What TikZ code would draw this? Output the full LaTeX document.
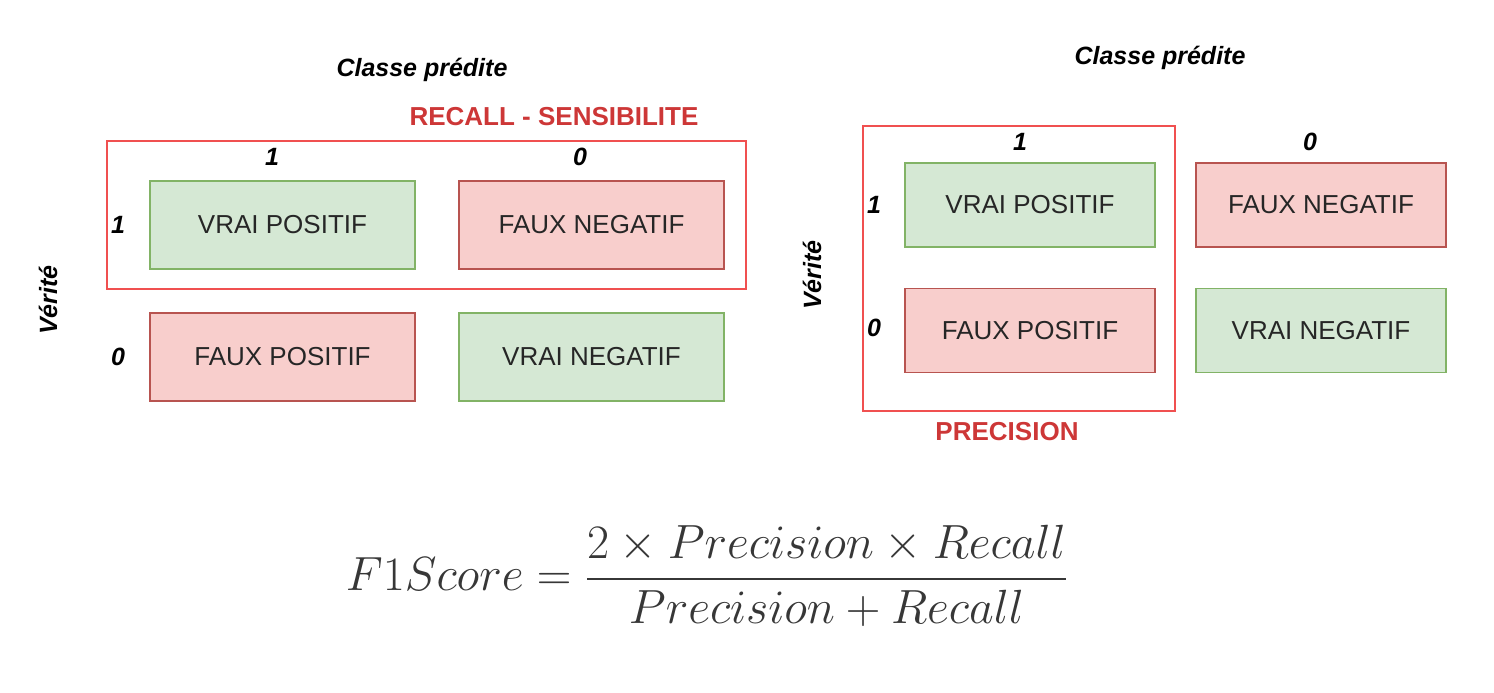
\documentclass[tikz,border=0pt]{standalone}
\usepackage{fix-cm}
\usepackage{amsmath}
\usepackage{fontspec}
\setmainfont{Liberation Sans}
\definecolor{vertfond}{HTML}{D5E8D4}
\definecolor{vertbord}{HTML}{82B366}
\definecolor{rougefond}{HTML}{F8CECC}
\definecolor{rougebord}{HTML}{B85450}
\definecolor{cadre}{RGB}{240,80,80}
\definecolor{titre}{RGB}{205,55,55}
\definecolor{formule}{RGB}{55,55,55}
\begin{document}
\begin{tikzpicture}[x=0.5pt, y=-0.5pt,
    vrai/.style={rectangle, draw=vertbord, fill=vertfond, line width=0.75pt, text=black!85, font=\fontsize{13}{15}\selectfont},
    faux/.style={rectangle, draw=rougebord, fill=rougefond, line width=0.75pt, text=black!85, font=\fontsize{13}{15}\selectfont},
    gauche/.style={minimum width=132.5pt, minimum height=44pt},
    droite/.style={minimum width=125pt, minimum height=42pt},
    etiq/.style={font=\fontsize{12.5}{14}\selectfont\bfseries\itshape},
    cadrebox/.style={draw=cadre, line width=1pt},
    metrique/.style={text=titre, font=\fontsize{13}{15}\selectfont\bfseries}]
  \useasboundingbox (0,0) rectangle (1494,692);

  % matrice de gauche : recall
  \node[etiq] (classeG) at (422,70) {Classe prédite};
  \node[metrique] (recall) at (554,117) {RECALL - SENSIBILITE};
  \draw[cadrebox] (107,141) rectangle (746,289);
  \node[vrai, gauche] (vpG) at (282.5,225) {VRAI POSITIF};
  \node[faux, gauche] (fnG) at (591.5,225) {FAUX NEGATIF};
  \node[faux, gauche] (fpG) at (282.5,357) {FAUX POSITIF};
  \node[vrai, gauche] (vnG) at (591.5,357) {VRAI NEGATIF};
  \node[etiq] (c1G) at (272,157) {1};
  \node[etiq] (c0G) at (580,157) {0};
  \node[etiq] (l1G) at (118,225) {1};
  \node[etiq] (l0G) at (118,357) {0};
  \node[etiq, rotate=90] (veriteG) at (48,300) {Vérité};

  % matrice de droite : precision
  \node[etiq] (classeD) at (1160,58) {Classe prédite};
  \draw[cadrebox] (863,126) rectangle (1175,411);
  \node[metrique] (precision) at (1007,432) {PRECISION};
  \node[vrai, droite] (vpD) at (1030,205) {VRAI POSITIF};
  \node[faux, droite] (fnD) at (1321,205) {FAUX NEGATIF};
  \node[faux, droite] (fpD) at (1030,330.5) {FAUX POSITIF};
  \node[vrai, droite] (vnD) at (1321,330.5) {VRAI NEGATIF};
  \node[etiq] (c1D) at (1020,142) {1};
  \node[etiq] (c0D) at (1310,142) {0};
  \node[etiq] (l1D) at (874,205) {1};
  \node[etiq] (l0D) at (874,328) {0};
  \node[etiq, rotate=90] (veriteD) at (812,275) {Vérité};

  % formule
  \node[text=formule, font=\fontsize{24}{28}\selectfont] (f1) at (707,576)
    {$F1Score = \dfrac{2\times Precision\times Recall}{Precision+Recall}$};
\end{tikzpicture}
\end{document}
